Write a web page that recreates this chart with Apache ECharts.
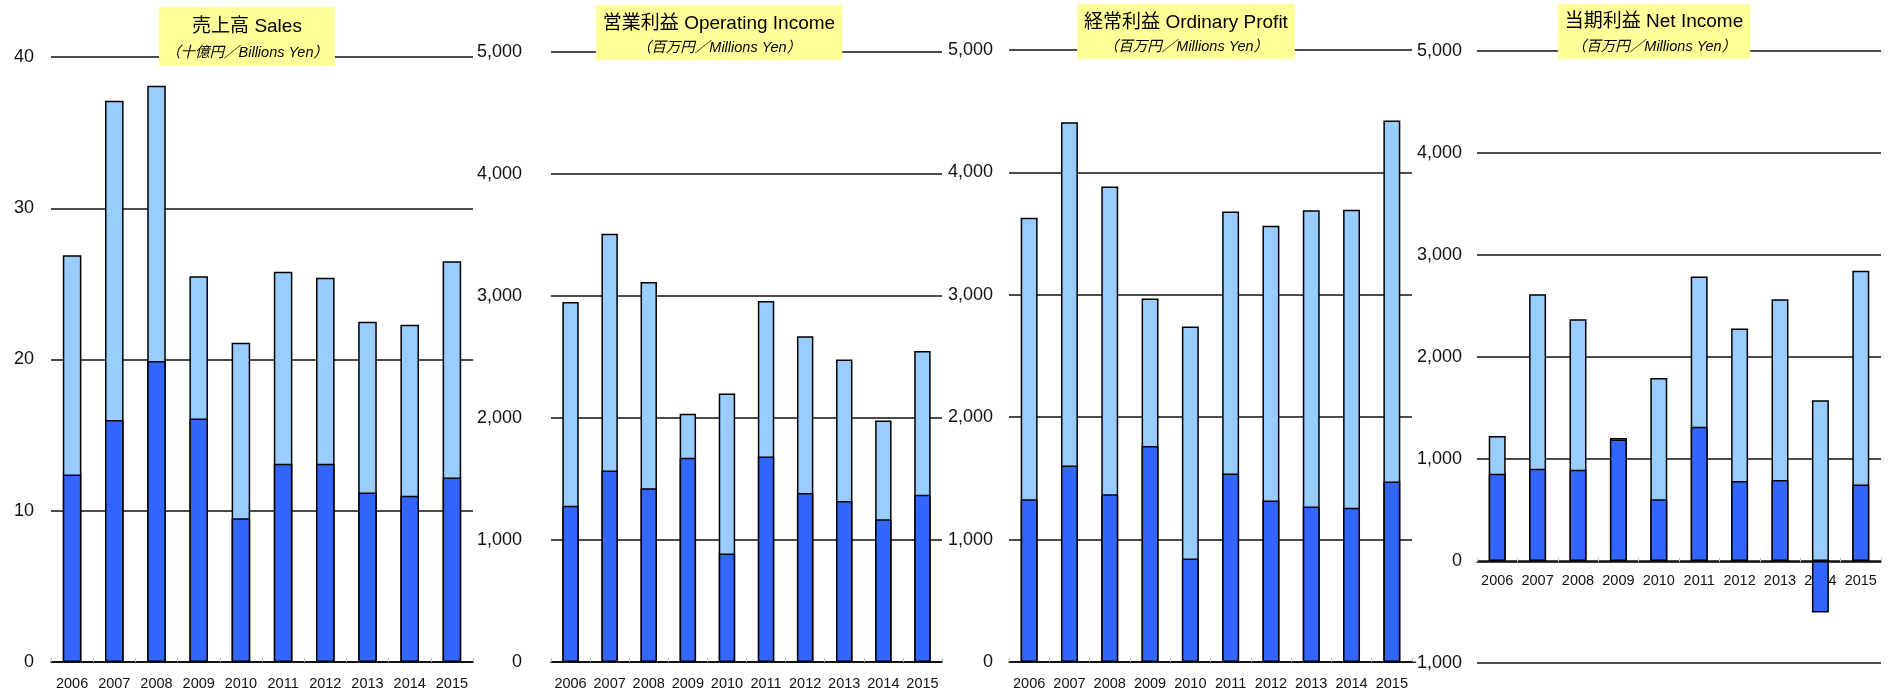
<!DOCTYPE html>
<html>
<head>
<meta charset="utf-8">
<script src="https://cdn.jsdelivr.net/npm/echarts@6/dist/echarts.min.js"></script>
<style>
  html, body { margin: 0; padding: 0; background: #fff; }
  #chart { width: 1892px; height: 694px; }
</style>
</head>
<body>
<div id="chart"></div>
<script>
const years = ['2006', '2007', '2008', '2009', '2010', '2011', '2012', '2013', '2014', '2015']

// full year (light) and first half (dark)
const salesFull = [26.9, 37.1, 38.1, 25.5, 21.1, 25.8, 25.4, 22.5, 22.3, 26.5]
const salesH1 = [12.4, 16.0, 19.9, 16.1, 9.5, 13.1, 13.1, 11.2, 11.0, 12.2]
const opIncomeFull = [2950, 3510, 3115, 2035, 2200, 2960, 2670, 2480, 1980, 2550]
const opIncomeH1 = [1280, 1570, 1425, 1675, 890, 1685, 1385, 1320, 1170, 1370]
const ordProfitFull = [3630, 4410, 3885, 2970, 2740, 3680, 3565, 3690, 3695, 4425]
const ordProfitH1 = [1330, 1605, 1370, 1765, 845, 1540, 1320, 1270, 1260, 1475]
const netIncomeFull = [1225, 2615, 2370, 1205, 1795, 2790, 2280, 2565, 1575, 2845]
const netIncomeH1 = [855, 905, 895, 1190, 605, 1315, 785, 795, -505, 750]

const FONT = "'Liberation Sans', Arial, 'Noto Sans CJK JP', sans-serif"
const LIGHT = '#99CCFF'
const DARK = '#3366FF'

const panels = [
  { title: '売上高 Sales', unit: '（十億円／Billions Yen）', full: salesFull, h1: salesH1,
    min: 0, max: 40, interval: 10, grid: { left: 51, width: 422, top: 57, height: 605 },
    labelMargin: 17, barWidth: '44%', box: { cx: 247, top: 7, pad: [10, 7, 6, 7], gap: 9.5 } },
  { title: '営業利益 Operating Income', unit: '（百万円／Millions Yen）', full: opIncomeFull, h1: opIncomeH1,
    min: 0, max: 5000, interval: 1000, grid: { left: 551, width: 391, top: 52, height: 610 },
    labelMargin: 29, barWidth: '42%', box: { cx: 719, top: 5, pad: [9.5, 7, 5, 7], gap: 7 } },
  { title: '経常利益 Ordinary Profit', unit: '（百万円／Millions Yen）', full: ordProfitFull, h1: ordProfitH1,
    min: 0, max: 5000, interval: 1000, grid: { left: 1009, width: 403, top: 50, height: 612 },
    labelMargin: 16, barWidth: '42%', box: { cx: 1186, top: 4, pad: [9.5, 7, 5, 7], gap: 7 } },
  { title: '当期利益 Net Income', unit: '（百万円／Millions Yen）', full: netIncomeFull, h1: netIncomeH1,
    min: -1000, max: 5000, interval: 1000, grid: { left: 1477, width: 404, top: 51, height: 612 },
    labelMargin: 15, barWidth: '42%', box: { cx: 1654, top: 4, pad: [8.5, 7, 5, 7], gap: 8 },
    xOffset: -101, xMargin: 12 },
]

const fmt = (v) => {
  const s = Math.abs(v).toLocaleString('en-US')
  return v < 0 ? '\u2212' + s : s
}

const option = {
  animation: false,
  backgroundColor: '#fff',
  textStyle: { fontFamily: FONT },
  title: panels.map(p => ({
    text: p.title,
    subtext: p.unit,
    left: p.box.cx - p.box.pad[3],
    top: p.box.top,
    textAlign: 'center',
    padding: p.box.pad,
    itemGap: p.box.gap,
    backgroundColor: '#FFFF99',
    textStyle: { fontFamily: FONT, fontSize: 19, fontWeight: 'normal', color: '#000' },
    subtextStyle: { fontFamily: FONT, fontSize: 14.5, fontStyle: 'italic', color: '#000' },
  })),
  grid: panels.map(p => ({ ...p.grid, containLabel: false })),
  xAxis: panels.map((p, i) => ({
    type: 'category',
    gridIndex: i,
    data: years,
    offset: p.xOffset || 0,
    axisLine: { onZero: false, lineStyle: { color: '#000', width: 1.5 } },
    axisTick: { show: true, inside: true, length: 4, lineStyle: { color: '#bbb' } },
    axisLabel: { color: '#111', fontSize: 14.5, fontFamily: FONT, margin: p.xMargin || 15, interval: 0 },
    splitLine: { show: false },
  })),
  yAxis: panels.map((p, i) => ({
    type: 'value',
    gridIndex: i,
    min: p.min,
    max: p.max,
    interval: p.interval,
    axisLine: { show: false },
    axisTick: { show: false },
    axisLabel: { color: '#111', fontSize: 18, fontFamily: FONT, margin: p.labelMargin, formatter: fmt },
    splitLine: { show: true, lineStyle: { color: '#111', width: 1.5 } },
  })),
  series: panels.flatMap((p, i) => [
    {
      name: p.title + ' full', type: 'bar', xAxisIndex: i, yAxisIndex: i,
      data: p.full, barWidth: p.barWidth, barGap: '-100%',
      itemStyle: { color: LIGHT, borderColor: '#000', borderWidth: 1.5 },
    },
    {
      name: p.title + ' H1', type: 'bar', xAxisIndex: i, yAxisIndex: i,
      data: p.h1, barWidth: p.barWidth, barGap: '-100%',
      itemStyle: { color: DARK, borderColor: '#000', borderWidth: 1.5 },
    },
  ]),
}

const chart = echarts.init(document.getElementById('chart'), null, { renderer: 'canvas' })
chart.setOption(option)
</script>
</body>
</html>
